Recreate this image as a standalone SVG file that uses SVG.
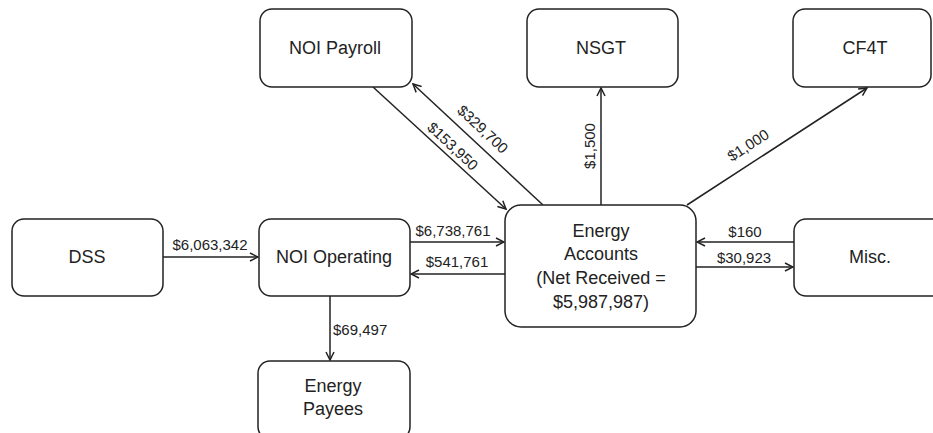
<svg xmlns="http://www.w3.org/2000/svg" width="933" height="433" viewBox="0 0 933 433">
<style>
.box{fill:#fff;stroke:#222;stroke-width:1.5}
.nt{font-family:"Liberation Sans",Arial,sans-serif;font-size:18px;fill:#222;text-anchor:middle;dominant-baseline:central}
.lb{font-family:"Liberation Sans",Arial,sans-serif;font-size:15px;fill:#222;text-anchor:middle;dominant-baseline:central}
.ln{fill:none;stroke:#222;stroke-width:1.5;marker-end:url(#arr)}
</style>
<defs>
<marker id="arr" viewBox="0 0 10 10" refX="9" refY="5" markerWidth="10" markerHeight="10" markerUnits="userSpaceOnUse" orient="auto">
<path d="M1,1 L9,5 L1,9" fill="none" stroke="#222" stroke-width="1.5"/>
</marker>
</defs>
<rect width="933" height="433" fill="#fff"/>
<g id="connectors">
<line class="ln" x1="163" y1="257" x2="258" y2="257"/>
<text class="lb" x="210" y="244">$6,063,342</text>
<line class="ln" x1="410" y1="242" x2="504" y2="242"/>
<text class="lb" x="453" y="230">$6,738,761</text>
<line class="ln" x1="505" y1="274" x2="411" y2="274"/>
<text class="lb" x="457" y="261">$541,761</text>
<line class="ln" x1="330" y1="296" x2="330" y2="360"/>
<text class="lb" x="333" y="329" style="text-anchor:start">$69,497</text>
<line class="ln" x1="373" y1="87" x2="506" y2="209"/>
<text class="lb" x="453" y="146" transform="rotate(43 453 146)">$153,950</text>
<line class="ln" x1="543" y1="205" x2="413" y2="84"/>
<text class="lb" x="483" y="129" transform="rotate(43 483 129)">$329,700</text>
<line class="ln" x1="601" y1="205" x2="601" y2="88"/>
<text class="lb" x="589" y="146" transform="rotate(-90 589 146)">$1,500</text>
<line class="ln" x1="687" y1="205" x2="867" y2="88"/>
<text class="lb" x="748" y="145" transform="rotate(-33 748 145)">$1,000</text>
<line class="ln" x1="794" y1="242" x2="697" y2="242"/>
<text class="lb" x="745" y="231">$160</text>
<line class="ln" x1="696" y1="267" x2="793" y2="267"/>
<text class="lb" x="744" y="257">$30,923</text>
</g>
<g id="noi-payroll"><rect class="box" x="260" y="9" width="152" height="78" rx="12"/><text class="nt" x="335" y="48">NOI Payroll</text></g>
<g id="nsgt"><rect class="box" x="527" y="9" width="151" height="78" rx="12"/><text class="nt" x="601" y="48">NSGT</text></g>
<g id="cf4t"><rect class="box" x="793" y="9" width="138" height="78" rx="12"/><text class="nt" x="865" y="48">CF4T</text></g>
<g id="dss"><rect class="box" x="12" y="219" width="151" height="77" rx="12"/><text class="nt" x="87" y="257">DSS</text></g>
<g id="noi-operating"><rect class="box" x="259" y="219" width="151" height="77" rx="12"/><text class="nt" x="334" y="257">NOI Operating</text></g>
<g id="energy-accounts"><rect class="box" x="505" y="205" width="191" height="122" rx="16"/>
<text class="nt" x="601" y="231">Energy</text>
<text class="nt" x="601" y="254">Accounts</text>
<text class="nt" x="601" y="278">(Net Received =</text>
<text class="nt" x="601" y="302">$5,987,987)</text></g>
<g id="misc"><rect class="box" x="794" y="219" width="150" height="77" rx="12"/><text class="nt" x="870" y="257">Misc.</text></g>
<g id="energy-payees"><rect class="box" x="258" y="361" width="152" height="78" rx="12"/>
<text class="nt" x="333" y="386">Energy</text>
<text class="nt" x="333" y="409">Payees</text></g>
</svg>
